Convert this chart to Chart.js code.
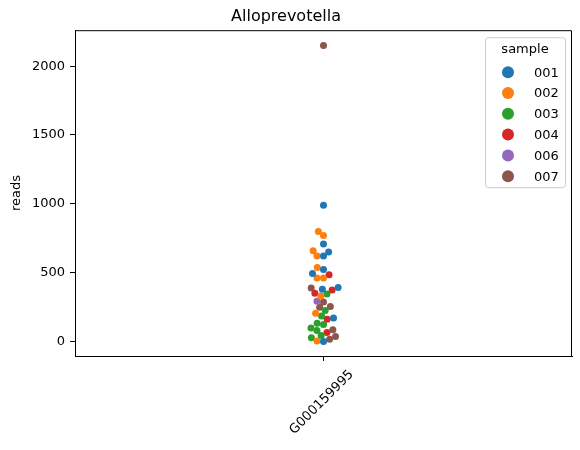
<!DOCTYPE html>
<html>
<head>
<meta charset="utf-8">
<script src="https://cdn.jsdelivr.net/npm/chart.js@4.4.0/dist/chart.umd.min.js"></script>
<style>
  html, body { margin: 0; padding: 0; background: #fff; }
  #wrap { width: 580px; height: 450px; }
</style>
</head>
<body>
<div id="wrap"><canvas id="chart"></canvas></div>
<script>
// data
const categories = ["G000159995"];
const samples = ["001", "002", "003", "004", "006", "007"];
const colors = ["#1f77b4", "#ff7f0e", "#2ca02c", "#d62728", "#9467bd", "#8c564b"];

const reads001 = [990, 708, 650, 621, 524, 495, 393, 379, 171, 0];
const reads002 = [799, 770, 659, 621, 538, 461, 461, 331, 205, 4];
const reads003 = [346, 225, 186, 133, 123, 99, 80, 44, 27];
const reads004 = [485, 375, 350, 162, 65];
const reads006 = [292];
const reads007 = [2150, 389, 288, 254, 249, 85, 36, 17];

const yTicks = [0, 500, 1000, 1500, 2000];

const FONT = "'DejaVu Sans', sans-serif";
const DOT_R = 3.5;

const allReads = [reads001, reads002, reads003, reads004, reads006, reads007];

// beeswarm in pixel space: lowest value first, closest free spot to the centre
function swarm(chart) {
  const ys = chart.scales.y, xs = chart.scales.x;
  const d = 6.5;
  const pts = [];
  chart.data.datasets.forEach((ds, di) =>
    ds.data.forEach((p, i) => pts.push({ di, i, py: ys.getPixelForValue(p.y) }))
  );
  pts.sort((a, b) => b.py - a.py);
  const placed = [];
  pts.forEach((p) => {
    const near = placed.filter((q) => Math.abs(q.py - p.py) < d);
    const cands = [0];
    near.forEach((q) => {
      const dx = Math.sqrt(d * d - (q.py - p.py) ** 2);
      cands.push(q.px - dx, q.px + dx);
    });
    cands.sort((a, b) => Math.abs(a) - Math.abs(b));
    p.px = cands.find((c) =>
      near.every((q) => (c - q.px) ** 2 + (p.py - q.py) ** 2 >= d * d - 1e-6)
    );
    placed.push(p);
  });
  const unit = (xs.max - xs.min) / xs.width;
  pts.forEach((p) => (chart.data.datasets[p.di].data[p.i].x = p.px * unit));
}

// top and right spines (bottom/left come from the axis borders)
const framePlugin = {
  id: "frame",
  afterDraw(chart) {
    const { ctx, chartArea: a } = chart;
    ctx.save();
    ctx.strokeStyle = "#000";
    ctx.lineWidth = 1;
    ctx.beginPath();
    ctx.moveTo(a.left, a.top + 0.5);
    ctx.lineTo(a.right - 0.5, a.top + 0.5);
    ctx.lineTo(a.right - 0.5, a.bottom);
    ctx.stroke();
    ctx.restore();
  },
};

const legendPlugin = {
  id: "innerLegend",
  afterDraw(chart) {
    const { ctx, chartArea: a } = chart;
    const w = 80, h = 150;
    const x0 = a.right - 7 - w, y0 = a.top + 7;
    ctx.save();
    ctx.beginPath();
    ctx.roundRect(x0 + 0.5, y0 + 0.5, w, h, 3);
    ctx.fillStyle = "rgba(255,255,255,0.8)";
    ctx.fill();
    ctx.strokeStyle = "#cccccc";
    ctx.lineWidth = 1;
    ctx.stroke();
    ctx.fillStyle = "#000";
    ctx.font = "13px " + FONT;
    ctx.textBaseline = "middle";
    ctx.textAlign = "center";
    ctx.fillText("sample", x0 + w / 2, y0 + 12);
    ctx.textAlign = "left";
    samples.forEach((s, i) => {
      const yy = y0 + 35 + i * 20.8;
      ctx.beginPath();
      ctx.arc(x0 + 23, yy, 6, 0, Math.PI * 2);
      ctx.fillStyle = colors[i];
      ctx.fill();
      ctx.fillStyle = "#000";
      ctx.fillText(s, x0 + 49, yy + 1);
    });
    ctx.restore();
  },
};

const chart = new Chart(document.getElementById("chart"), {
  type: "scatter",
  data: {
    datasets: samples.map((s, i) => ({
      label: s,
      data: allReads[i].map((v) => ({ x: 0, y: v })),
      backgroundColor: colors[i],
      pointRadius: DOT_R,
      pointHoverRadius: DOT_R,
      pointBorderWidth: 0,
    })),
  },
  options: {
    animation: false,
    responsive: true,
    maintainAspectRatio: false,
    layout: { padding: { left: 0, right: 8, top: 0, bottom: 0 } },
    plugins: {
      legend: { display: false },
      tooltip: { enabled: false },
      title: {
        display: true,
        text: "Alloprevotella",
        color: "#000",
        font: { family: FONT, size: 16, weight: "normal" },
        padding: { top: 7, bottom: 4 },
      },
    },
    scales: {
      x: {
        type: "linear",
        min: -0.5,
        max: 0.5,
        afterBuildTicks: (s) => (s.ticks = [{ value: 0 }]),
        afterFit: (s) => (s.height = 94),
        grid: { drawOnChartArea: false, drawTicks: true, tickLength: 5, color: "#000" },
        border: { color: "#000", width: 1 },
        ticks: {
          color: "#000",
          font: { family: FONT, size: 13 },
          minRotation: 45,
          maxRotation: 45,
          padding: 6,
          labelOffset: 28,
          callback: () => categories[0],
        },
      },
      y: {
        min: -105,
        max: 2261,
        afterBuildTicks: (s) => (s.ticks = yTicks.map((v) => ({ value: v }))),
        afterFit: (s) => (s.width = 75),
        grid: { drawOnChartArea: false, drawTicks: true, tickLength: 5, color: "#000" },
        border: { color: "#000", width: 1 },
        ticks: {
          color: "#000",
          font: { family: FONT, size: 13 },
          padding: 5,
          callback: (v) => String(v),
        },
        title: {
          display: true,
          text: "reads",
          color: "#000",
          font: { family: FONT, size: 13 },
          padding: { top: 9, bottom: 0 },
        },
      },
    },
  },
  plugins: [framePlugin, legendPlugin],
});

swarm(chart);
chart.update();
</script>
</body>
</html>
